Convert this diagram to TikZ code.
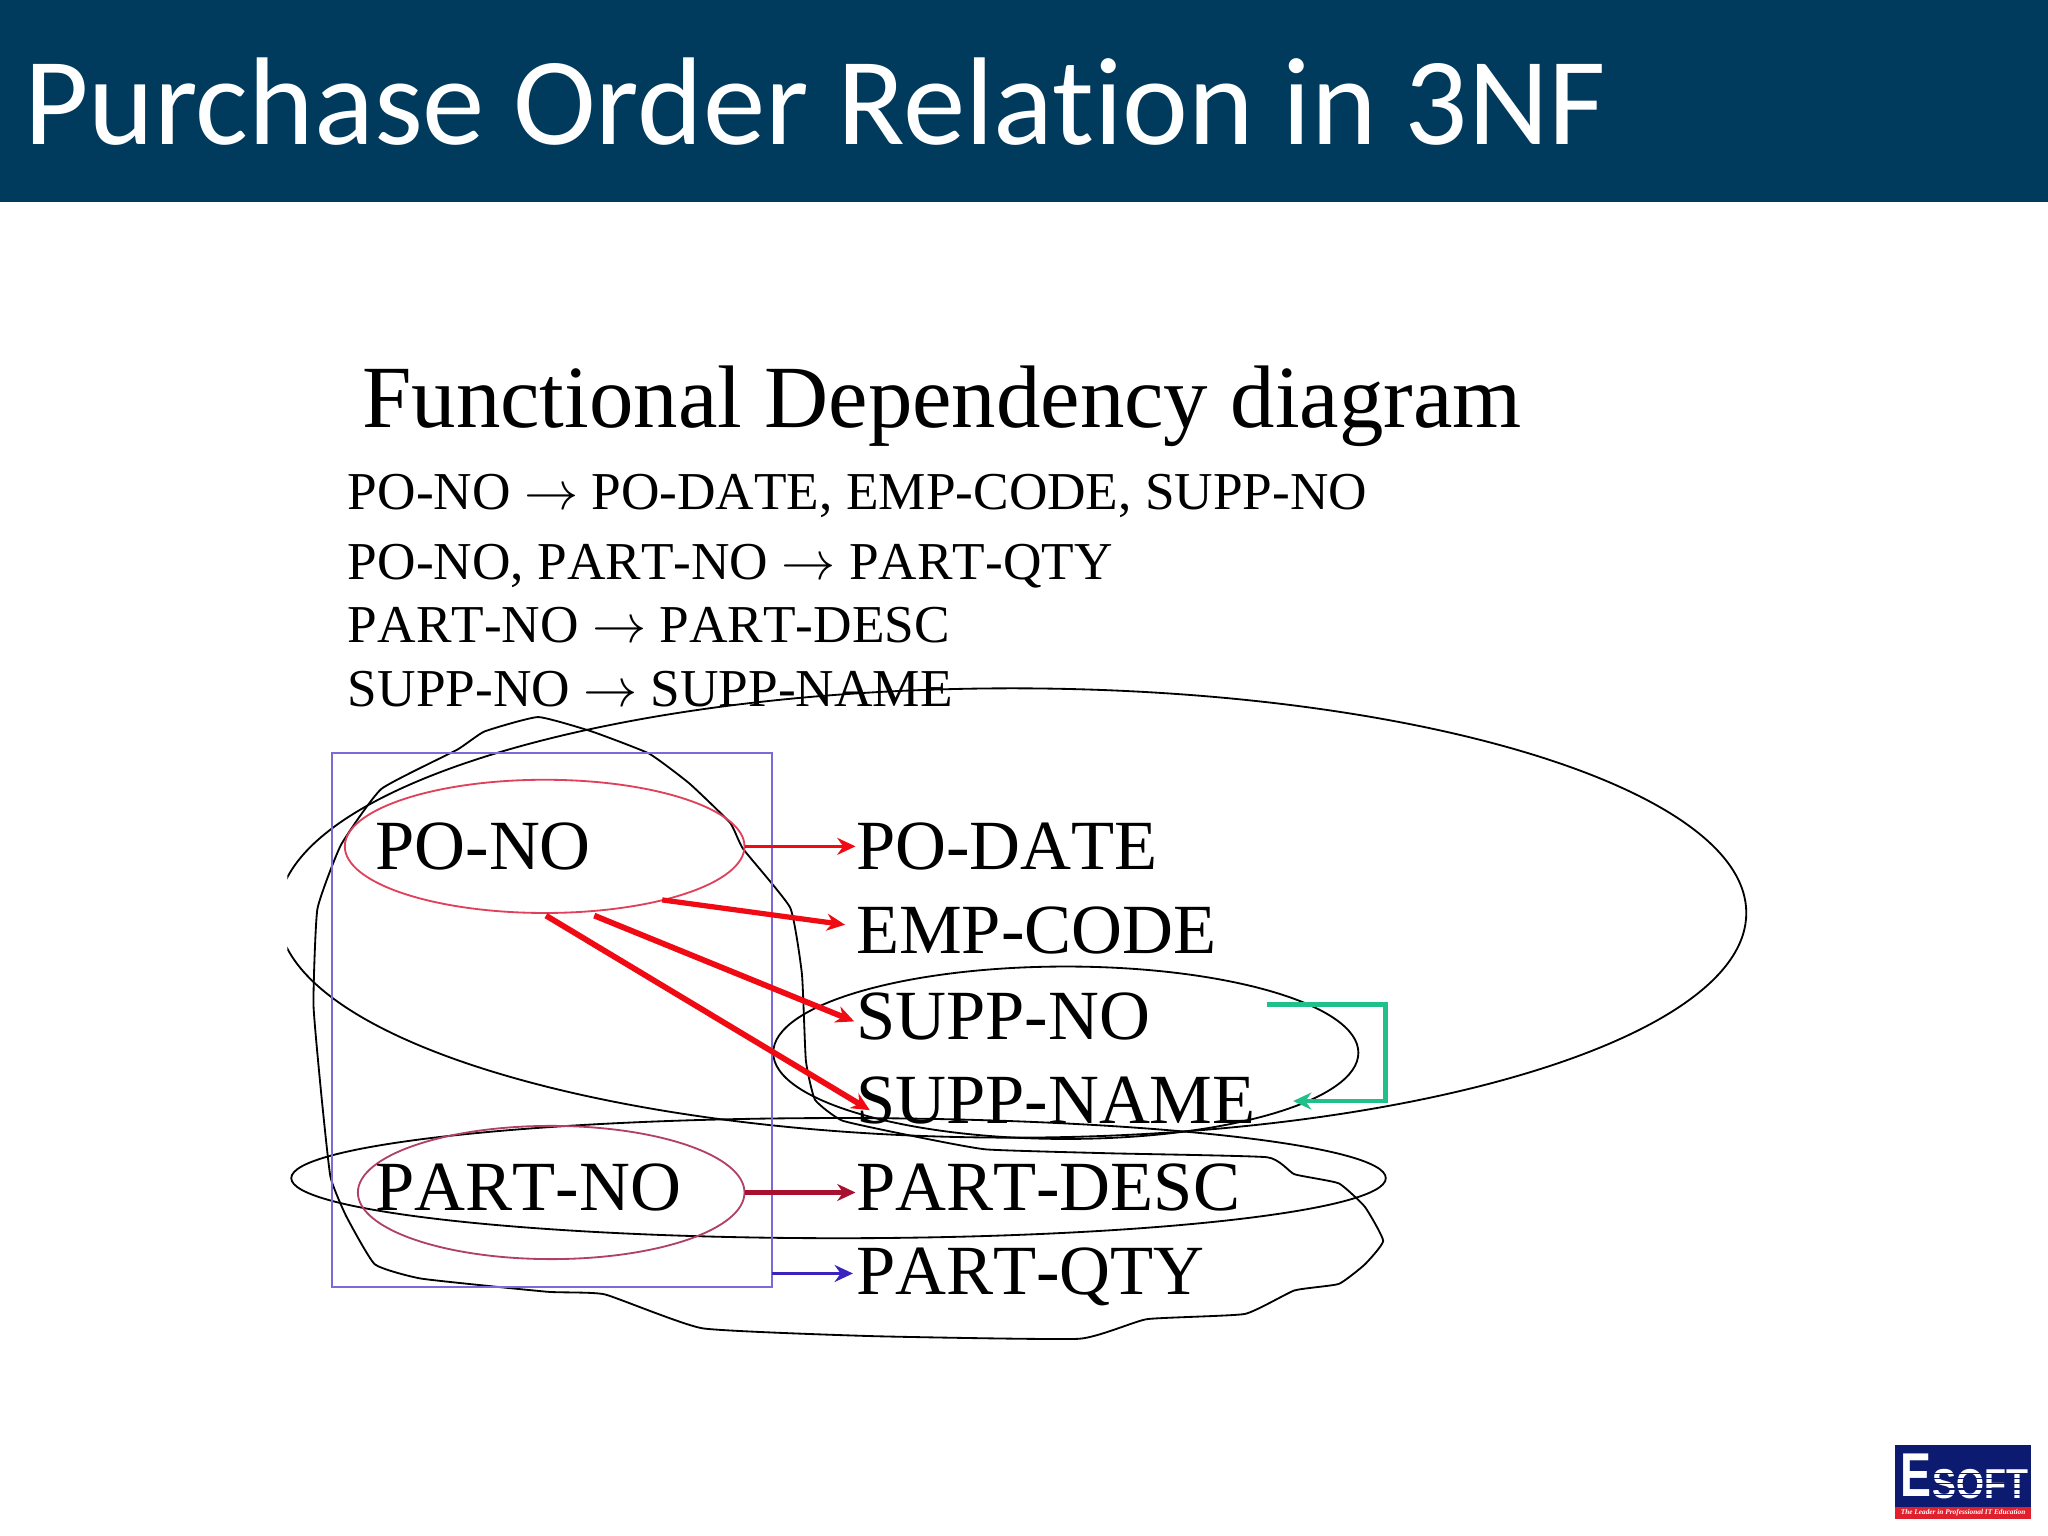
\documentclass[tikz,border=0pt]{standalone}
\usepackage{fontspec}
\setmainfont[Kerning=Off]{Liberation Serif}
\newfontfamily\titlefont[Ligatures=NoCommon]{Carlito}
\newfontfamily\logofont{Liberation Sans}
\usetikzlibrary{shapes.geometric,arrows.meta}
\definecolor{band}{HTML}{003A5C}
\definecolor{arrred}{HTML}{F00A14}
\definecolor{arrcrim}{HTML}{A8102F}
\definecolor{arrblue}{HTML}{3A22C0}
\definecolor{arrgreen}{HTML}{1FC08A}
\definecolor{boxblue}{HTML}{7A6CD8}
\definecolor{ellred}{HTML}{E0405A}
\definecolor{ellcrim}{HTML}{B04068}
\definecolor{logonavy}{HTML}{0C1A70}
\definecolor{logored}{HTML}{E0202C}
\tikzset{
  x=0.5pt,y=-0.5pt,
  bigfd/.style={inner sep=0pt,anchor=base west,font=\fontsize{27}{30}\selectfont},
  fdline/.style={inner sep=0pt,anchor=base west,font=\fontsize{#1}{24}\selectfont},
  ell/.style={ellipse,draw=black,line width=0.7pt,inner sep=0pt},
  redell/.style={ellipse,draw=#1,line width=0.7pt,inner sep=0pt},
  arr/.style={-{Stealth[length=7pt,width=6.5pt]},line width=#1},
  arr/.default=1pt,
}
\begin{document}
\begin{tikzpicture}
\useasboundingbox (0,0) rectangle (1568,1176);
\fill[white] (0,0) rectangle (1568,1176);
\fill[band] (0,0) rectangle (1568,155);
\node[inner sep=0pt,anchor=base west,text=white,font=\titlefont\fontsize{47.8}{52}\selectfont] (title) at (18,110.5) {Purchase Order Relation in 3NF};

\node[inner sep=0pt,anchor=base west,font=\fontsize{34}{36}\selectfont] (heading) at (277,327.5) {Functional Dependency diagram};
\node[fdline=20.4] (fd1) at (266,390) {PO-NO $\rightarrow$ PO-DATE, EMP-CODE, SUPP-NO};
\node[fdline=20.4] (fd2) at (266,444) {PO-NO, PART-NO $\rightarrow$ PART-QTY};
\node[fdline=20.4] (fd3) at (266,492) {PART-NO $\rightarrow$ PART-DESC};
\node[fdline=20.4] (fd4) at (266,541) {SUPP-NO $\rightarrow$ SUPP-NAME};

% freehand outline
\draw[black,line width=0.7pt] plot[smooth cycle,tension=0.25] coordinates {
 (412,549) (453,560) (497,577) (528,600) (559,630) (569,650) (605,695) (614,746) (617,812) (624,842) (645,858)
 (700,870) (755,880) (850,883) (970,886) (991,899) (1025,906) (1045,924) (1059,950) (1045,968) (1025,983) (991,988)
 (953,1006) (878,1010) (826,1025) (669,1023) (538,1017) (463,991) (419,989) (323,979) (287,968) (265,931) (253,901)
 (246,838) (240,769) (243,696) (261,647) (292,604) (350,574) (371,560)};

% big ellipse, cut at the left
\begin{scope}
\clip (220,500) rectangle (1400,900);
\node[ell,minimum width=562pt,minimum height=172pt] (bigell) at (775,699) {};
\end{scope}
\node[ell,minimum width=224pt,minimum height=66pt] (suppell) at (816,806) {};
\node[ell,minimum width=419pt,minimum height=46pt] (partell) at (642,902) {};

\node[draw=boxblue,line width=0.9pt,inner sep=0pt,minimum width=168.5pt,minimum height=204.5pt] (keybox) at (422.5,781) {};
\node[redell=ellred,minimum width=153pt,minimum height=51pt] (poell) at (417,648) {};
\node[redell=ellcrim,minimum width=148pt,minimum height=51pt] (ptell) at (422,913) {};

\node[bigfd] (pono) at (287,666) {PO-NO};
\node[bigfd] (partno) at (287,927) {PART-NO};
\node[bigfd] (podate) at (655,666) {PO-DATE};
\node[bigfd] (empcode) at (655,730) {EMP-CODE};
\node[bigfd] (suppno) at (655,796) {SUPP-NO};
\node[bigfd] (suppname) at (655,860) {SUPP-NAME};
\node[bigfd] (partdesc) at (655,927) {PART-DESC};
\node[bigfd] (partqty) at (655,991) {PART-QTY};

\coordinate (s1) at (507,689);
\coordinate (s2) at (455,701);
\coordinate (s3) at (418,701);
\coordinate (t1) at (647,708);
\coordinate (t2) at (654,782);
\coordinate (t3) at (666,850);
\coordinate (g1) at (970,769);
\coordinate (g2) at (1061,769);
\coordinate (g3) at (1061,843);
\coordinate (g4) at (990,843);
\coordinate (b1) at (591,975);
\coordinate (b2) at (653,975);

\draw[arr=1.3pt,arrred] (poell.east) -- (poell.east -| podate.west);
\draw[arr=2pt,arrred] (s1) -- (t1);
\draw[arr=2.2pt,arrred] (s2) -- (t2);
\draw[arr=2.2pt,arrred] (s3) -- (t3);
\draw[arr=1.6pt,arrcrim] (ptell.east) -- (ptell.east -| partdesc.west);
\draw[arr=1.5pt,arrblue] (b1) -- (b2);
\draw[arr=1.8pt,arrgreen] (g1) -- (g2) -- (g3) -- (g4);

% logo
\fill[logonavy] (1451,1106) rectangle (1555,1154);
\fill[logored] (1451,1154) rectangle (1555,1163);
\node[inner sep=0pt,anchor=base west,text=white,xscale=0.75,font=\logofont\bfseries\fontsize{23.7}{24}\selectfont] (logoe) at (1455,1146) {E};
\node[inner sep=0pt,anchor=base west,text=white,xscale=0.86,font=\logofont\bfseries\fontsize{16}{18}\selectfont] (logos) at (1479,1147) {SOFT};
\foreach \yy in {1128,1132,1136,1140,1144}{
  \draw[logonavy,line width=0.4pt] (1479,\yy) -- (1553,\yy);
}
\node[inner sep=0pt,text=white,font=\itshape\bfseries\fontsize{2.8}{3}\selectfont] (logotag) at (1503,1158.5) {The Leader in Professional IT Education};
\end{tikzpicture}
\end{document}
